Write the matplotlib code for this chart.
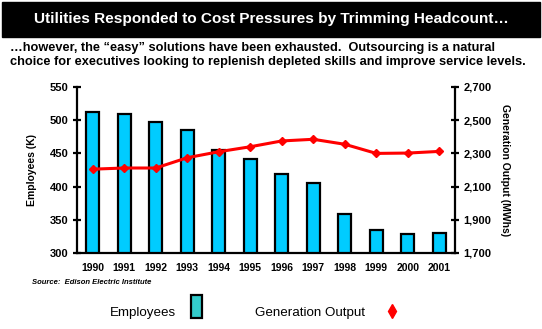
import matplotlib
matplotlib.use("Agg")
import matplotlib.pyplot as plt
from matplotlib.patches import Rectangle
from matplotlib.lines import Line2D

plt.rcParams['font.family'] = ['Liberation Sans', 'DejaVu Sans']

years = ["1990", "1991", "1992", "1993", "1994", "1995", "1996", "1997",
         "1998", "1999", "2000", "2001"]
employees = [512, 509, 498, 485, 455, 441, 419, 405, 358, 334, 328, 330]
generation = [2205, 2212, 2212, 2274, 2310, 2340, 2375, 2385, 2355, 2300, 2302, 2312]
left_ticks = [300, 350, 400, 450, 500, 550]
right_ticks = [1700, 1900, 2100, 2300, 2500, 2700]

W, H = 542, 329
fig = plt.figure(figsize=(W / 100, H / 100), dpi=100)

# title banner
fig.patches.append(Rectangle((2 / W, 1 - 37 / H), 538 / W, 35 / H,
                             transform=fig.transFigure, color="black", zorder=0))
fig.text(0.5, 1 - 19.5 / H, "Utilities Responded to Cost Pressures by Trimming Headcount…",
         color="white", fontsize=11.1, fontweight="bold", ha="center", va="center")
fig.text(10 / W, 1 - 55 / H,
         "…however, the “easy” solutions have been exhausted.  Outsourcing is a natural\n"
         "choice for executives looking to replenish depleted skills and improve service levels.",
         fontsize=9.2, fontweight="bold", ha="left", va="center", linespacing=1.15)

ax = fig.add_axes([77 / W, 76 / H, 378 / W, 166 / H])
x = list(range(len(years)))
ax.bar(x, employees, width=0.42, color="#00CCFF", edgecolor="black", linewidth=1.6, zorder=2)
ax.set_xlim(-0.5, len(years) - 0.5)
ax.set_ylim(300, 550)
ax.set_yticks(left_ticks)
ax.set_yticklabels([str(v) for v in left_ticks], fontsize=8, fontweight="bold")
ax.set_xticks(x)
ax.set_xticklabels(years, fontsize=7.5, fontweight="bold")
ax.tick_params(axis="x", length=0, pad=7)
ax.tick_params(axis="y", direction="inout", length=6, width=1.6, pad=3)
for s in ("top", "right"):
    ax.spines[s].set_visible(False)
for s in ("left", "bottom"):
    ax.spines[s].set_linewidth(1.6)
ax.set_ylabel("Employees (K)", fontsize=7.5, fontweight="bold", labelpad=9)

ax2 = ax.twinx()
ax2.plot(x, generation, color="#FF0000", linewidth=2.2, marker="D", markersize=4.5,
         markeredgecolor="#FF0000", zorder=3)
ax2.set_ylim(1700, 2700)
ax2.set_yticks(right_ticks)
ax2.set_yticklabels([f"{v:,}" for v in right_ticks], fontsize=8, fontweight="bold")
ax2.tick_params(axis="y", direction="inout", length=6, width=1.6, pad=3)
for s in ("top", "left", "bottom"):
    ax2.spines[s].set_visible(False)
ax2.spines["right"].set_linewidth(1.6)
ax2.set_ylabel("Generation Output (MWhs)", fontsize=7.5, fontweight="bold",
               rotation=270, labelpad=13)

fig.text(32 / W, 1 - 283 / H, "Source:  Edison Electric Institute", fontsize=5.5,
         fontweight="bold", style="italic", ha="left", va="center")

# legend row
fig.text(110 / W, 1 - 313 / H, "Employees", fontsize=9.6, ha="left", va="center")
fig.patches.append(Rectangle((191 / W, 1 - 318 / H), 11 / W, 23 / H,
                             transform=fig.transFigure, facecolor="#33CCCC",
                             edgecolor="black", linewidth=1.6))
fig.text(255 / W, 1 - 313 / H, "Generation Output", fontsize=9.6, ha="left", va="center")
fig.lines.append(Line2D([392 / W], [1 - 311 / H], transform=fig.transFigure,
                        marker="d", markersize=7, color="#FF0000", linestyle="none"))

fig.savefig("out.png", dpi=100)
